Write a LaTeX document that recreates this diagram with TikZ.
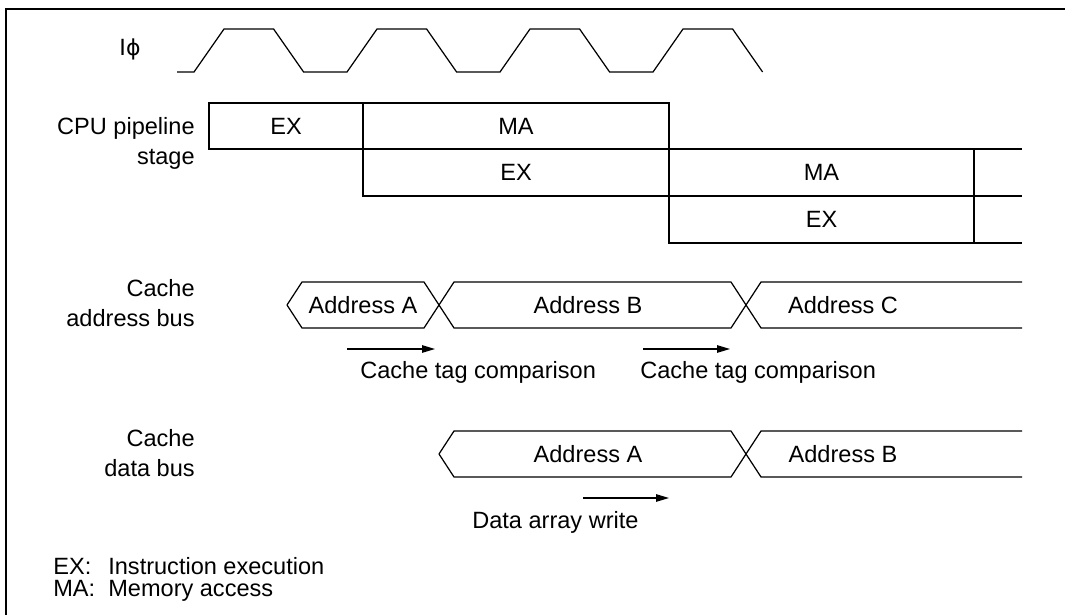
\documentclass[tikz,border=0pt]{standalone}
\usepackage{fontspec}
\setmainfont{Liberation Sans}
\newfontfamily\greekfont{DejaVu Sans}
\usetikzlibrary{arrows.meta}

\begin{document}
\begin{tikzpicture}[x=0.02cm, y=-0.02cm,
        every node/.style={font=\fontsize{13.4}{17}\selectfont, inner sep=0pt},
        signal/.style={line width=0.7pt},
        rowname/.style={align=right, anchor=east},
        tagarrow/.style={-{Triangle[length=2.6mm, width=1.5mm]}, line width=0.7pt},
        outline/.style={line width=1.2pt}
    ]
        \useasboundingbox (0,0) rectangle (1065,615);

        % Outline
        \draw[outline] (6,615) -- (6,9) -- (1065,9);

        % Clock
        \node (clk) at (130,49) {I{\greekfont\fontsize{12.5}{15}\selectfont ϕ}};
        \draw[signal] (177,72) -- (194,72)
            \foreach \i in {0,1,2} { -- ++(30,-43) -- ++(49.6,0) -- ++(30,43) -- ++(43.4,0) }
            -- ++(30,-43) -- ++(49.6,0) -- ++(30,43);

        % CPU pipeline stage
        \node[rowname] (cpu) at (195,143) {CPU pipeline\\stage};
        \draw[signal] (209,103) rectangle node (ex1) {EX} (363,149);
        \draw[signal] (363,103) rectangle node (ma1) {MA} (669,149);
        \draw[signal] (363,149) rectangle node (ex2) {EX} (669,196);
        \draw[signal] (669,149) rectangle node (ma2) {MA} (974,196);
        \draw[signal] (669,196) rectangle node (ex3) {EX} (974,243);
        \draw[signal] (974,149) -- (1022,149);
        \draw[signal] (974,196) -- (1022,196);
        \draw[signal] (974,243) -- (1022,243);

        % Cache address bus
        \node[rowname] (abus) at (195,303) {Cache\\address bus};
        \draw[signal] (287,305) -- (302,282) -- (424,282) -- (454,328) -- (731,328) -- (761,282) -- (1022,282);
        \draw[signal] (287,305) -- (302,328) -- (424,328) -- (454,282) -- (731,282) -- (761,328) -- (1022,328);
        \node (adrA) at (363,305) {Address A};
        \node (adrB) at (588,305) {Address B};
        \node (adrC) at (843,305) {Address C};

        % Tag comparison
        \coordinate (tag1s) at (347,349);
        \coordinate (tag1e) at (435,349);
        \coordinate (tag2s) at (643,349);
        \coordinate (tag2e) at (730,349);
        \draw[tagarrow] (tag1s) -- (tag1e);
        \draw[tagarrow] (tag2s) -- (tag2e);
        \node[anchor=west] (cmp1) at (360,372.5) {Cache tag comparison};
        \node[anchor=west] (cmp2) at (640,372.5) {Cache tag comparison};

        % Cache data bus
        \node[rowname] (dbus) at (195,453) {Cache\\data bus};
        \draw[signal] (439,454) -- (454,431) -- (731,431) -- (761,477) -- (1022,477);
        \draw[signal] (439,454) -- (454,477) -- (731,477) -- (761,431) -- (1022,431);
        \node (datA) at (588,454) {Address A};
        \node (datB) at (843,454) {Address B};

        % Data array write
        \coordinate (wrs) at (583,498);
        \coordinate (wre) at (669,498);
        \draw[tagarrow] (wrs) -- (wre);
        \node[anchor=west] (wr) at (472,522) {Data array write};

        % Legend
        \node[anchor=base west] (legEX) at (53,574) {EX:};
        \node[anchor=base west] (legEXtxt) at (108,574) {Instruction execution};
        \node[anchor=base west] (legMA) at (53,596) {MA:};
        \node[anchor=base west] (legMAtxt) at (108,596) {Memory access};
    \end{tikzpicture}
\end{document}
